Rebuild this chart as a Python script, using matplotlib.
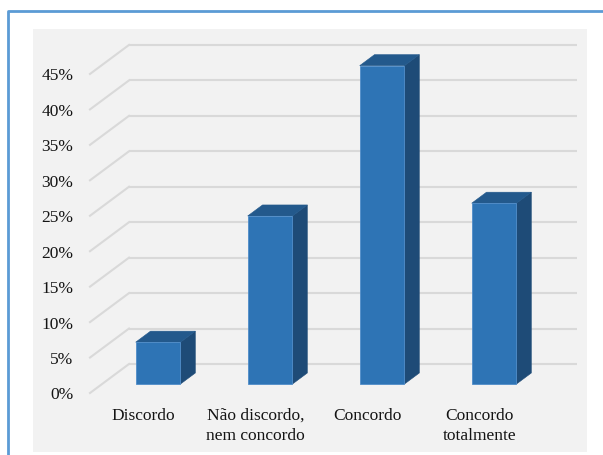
import matplotlib
matplotlib.use("Agg")
import matplotlib.pyplot as plt
from matplotlib.patches import Polygon, Rectangle
from matplotlib.lines import Line2D

# Survey answers (share of respondents, %)
categories = ["Discordo", "Não discordo,\nnem concordo", "Concordo", "Concordo\ntotalmente"]
values = [5.9, 23.7, 44.9, 25.5]
tick_values = [0, 5, 10, 15, 20, 25, 30, 35, 40, 45]
tick_labels = [f"{v}%" for v in tick_values]

plt.rcParams["font.family"] = ["Liberation Serif", "DejaVu Serif"]

W, H = 603, 455
fig = plt.figure(figsize=(W / 100, H / 100), dpi=100)
fig.patch.set_facecolor("white")


# Figure pixel helpers (origin top-left)
def fx(p):
    return p / W


def fy(p):
    return 1 - p / H


# Chart frame and plot-area background
fig.patches.append(Rectangle((fx(33), fy(452)), fx(587) - fx(33), fy(29) - fy(452),
                             transform=fig.transFigure, facecolor="#F2F2F2",
                             edgecolor="none", zorder=0))
fig.lines.append(Line2D([fx(8), fx(8), fx(W)], [fy(H), fy(11), fy(11)],
                        transform=fig.transFigure, color="#5B9BD5", lw=2.0, zorder=1))

# Axes spans the whole figure; data units: category index on x, percent on y
ax = fig.add_axes([0, 0, 1, 1])
ax.set_zorder(3)
ax.patch.set_visible(False)
px_per_cat = 112.0
px_per_pct = 7.09
x0_px, y0_px = 129.0, 364.0  # back wall origin in pixels (from top)
ax.set_xlim(-x0_px / px_per_cat, (W - x0_px) / px_per_cat)
ax.set_ylim((y0_px - H) / px_per_pct, y0_px / px_per_pct)
ax.axis("off")

# Oblique projection: depth 0 = back wall, 1 = front edge of floor
DX = -39.0 / px_per_cat
DY = -29.0 / px_per_pct


def shift(d):
    return DX * d, DY * d


n = len(categories)
grid_color = "#D9D9D9"
fsx, fsy = shift(1.0)
for v, lab in zip(tick_values, tick_labels):
    # back wall line
    ax.plot([0, n], [v, v], color=grid_color, lw=1.5, zorder=2, solid_capstyle="butt")
    # side wall line
    ax.plot([fsx, 0], [v + fsy, v], color=grid_color, lw=1.5, zorder=2)
    ax.text(fsx - 0.15, v + fsy - 0.35, lab, ha="right", va="center",
            fontsize=12.5, color="#141414")

# Bars
d_front, d_back = 0.69, 0.31
bw = 0.40
front_c, side_c, top_c = "#2E74B5", "#1E4B77", "#23598C"
for i, v in enumerate(values):
    xl = i + 0.5 - bw / 2
    xr = i + 0.5 + bw / 2
    sfx, sfy = shift(d_front)
    sbx, sby = shift(d_back)
    front = Polygon([(xl + sfx, sfy), (xr + sfx, sfy), (xr + sfx, v + sfy), (xl + sfx, v + sfy)],
                    closed=True, facecolor=front_c, edgecolor="#4F8CC9", lw=0.6, zorder=5)
    side = Polygon([(xr + sfx, sfy), (xr + sbx, sby), (xr + sbx, v + sby), (xr + sfx, v + sfy)],
                   closed=True, facecolor=side_c, edgecolor=side_c, lw=0.4, zorder=4)
    top = Polygon([(xl + sfx, v + sfy), (xr + sfx, v + sfy), (xr + sbx, v + sby), (xl + sbx, v + sby)],
                  closed=True, facecolor=top_c, edgecolor=top_c, lw=0.4, zorder=4)
    for p in (side, top, front):
        ax.add_patch(p)

# Category labels along the front edge of the floor
for i, lab in enumerate(categories):
    ax.text(i + 0.5 + fsx - 0.02, (y0_px - 408) / px_per_pct, lab, ha="center", va="top",
            fontsize=12.5, color="#141414", linespacing=1.3)

fig.savefig("out.png", dpi=100)
